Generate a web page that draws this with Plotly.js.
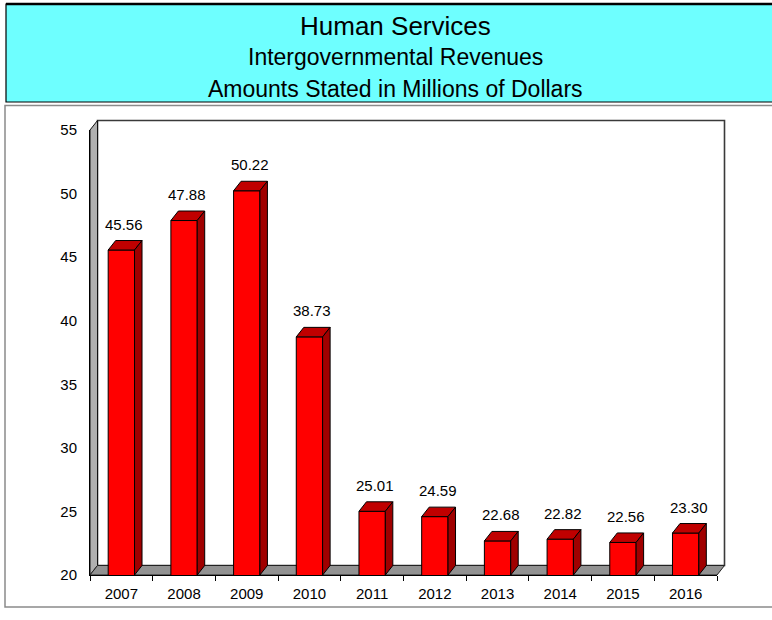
<!DOCTYPE html>
<html>
<head>
<meta charset="utf-8">
<script src="https://cdn.plot.ly/plotly-3.0.1.min.js"></script>
<style>
html,body{margin:0;padding:0;background:#ffffff;}
#chart{width:772px;height:620px;}
</style>
</head>
<body>
<div id="chart"></div>
<script>
// ---- data ----
const years = ['2007','2008','2009','2010','2011','2012','2013','2014','2015','2016'];
const revenues = [45.56, 47.88, 50.22, 38.73, 25.01, 24.59, 22.68, 22.82, 22.56, 23.30];
const yTickValues = [20, 25, 30, 35, 40, 45, 50, 55];
const titleLines = ['Human Services', 'Intergovernmental Revenues', 'Amounts Stated in Millions of Dollars'];

// ---- layout geometry ----
const W = 772, H = 620;
const M = {l: 90, r: 55, t: 130, b: 45};
const plotW = W - M.l - M.r, plotH = H - M.t - M.b;
const yMin = 20, yMax = 55;
const depthX = 7.5, depthY = 9.5;            // 3D depth in pixels
const dxP = depthX / plotW, dyP = depthY / plotH;
const dyData = depthY * (yMax - yMin) / plotH;
const barWidth = 0.42;
const halfPx = barWidth / 2 * plotW / years.length;
const px = x => (x - M.l) / plotW;           // page pixel -> paper
const py = y => (M.t + plotH - y) / plotH;

const FONT = 'Liberation Sans, Arial, Helvetica, sans-serif';

const shapes = [];
// title box
shapes.push({type:'rect', xref:'paper', yref:'paper', x0:px(6), x1:px(800), y0:py(102), y1:py(4),
  fillcolor:'#6effff', line:{color:'#000', width:1.2}, layer:'below'});
shapes.push({type:'line', xref:'paper', yref:'paper', x0:px(6), x1:px(800), y0:py(4), y1:py(4),
  line:{color:'#000', width:2.5}, layer:'below'});
// outer frame of chart area
shapes.push({type:'rect', xref:'paper', yref:'paper', x0:px(5), x1:px(800), y0:py(607), y1:py(105.5),
  fillcolor:'rgba(0,0,0,0)', line:{color:'#8a8a8a', width:1.5}, layer:'below'});
// back wall
shapes.push({type:'rect', xref:'paper', yref:'paper', x0:dxP, x1:1+dxP, y0:dyP, y1:1+dyP,
  fillcolor:'#ffffff', line:{color:'#3a3a3a', width:1.6}, layer:'below'});
// left wall
shapes.push({type:'path', xref:'paper', yref:'paper',
  path:`M0,0 L${dxP},${dyP} L${dxP},${1+dyP} L0,1 Z`,
  fillcolor:'#b0b0b0', line:{color:'#111', width:1}, layer:'below'});
// floor
shapes.push({type:'path', xref:'paper', yref:'paper',
  path:`M0,0 L1,0 L${1+dxP},${dyP} L${dxP},${dyP} Z`,
  fillcolor:'#929292', line:{color:'#222', width:1}, layer:'below'});

// 3D bar faces (top and side), anchored at each bar (category index) through the axes
years.forEach((yr, i) => {
  const v = revenues[i];
  const h = halfPx;
  shapes.push({type:'path', xref:'x', yref:'y', xsizemode:'pixel', xanchor:i,
    path:`M${-h},${v} L${h},${v} L${h+depthX},${v+dyData} L${-h+depthX},${v+dyData} Z`,
    fillcolor:'#c00000', line:{color:'#000', width:1}, layer:'above'});
  shapes.push({type:'path', xref:'x', yref:'y', xsizemode:'pixel', xanchor:i,
    path:`M${h},${v} L${h+depthX},${v+dyData} L${h+depthX},${yMin+dyData} L${h},${yMin} Z`,
    fillcolor:'#a00000', line:{color:'#000', width:1}, layer:'above'});
});

const annotations = [];
const titleY = [26, 57, 89];
const titleSize = [26, 23, 23];
titleLines.forEach((t, i) => {
  annotations.push({xref:'paper', yref:'paper', x:px(395), y:py(titleY[i]), xanchor:'center', yanchor:'middle',
    text:t, showarrow:false, font:{family:FONT, size:titleSize[i], color:'#000'}});
});
years.forEach((yr, i) => {
  annotations.push({xref:'x', yref:'y', x:i, y:revenues[i], xanchor:'center', yanchor:'middle',
    xshift:3, yshift:26, text:revenues[i].toFixed(2), showarrow:false,
    font:{family:FONT, size:15, color:'#000'}});
});

const trace = {
  type:'bar', x:years, y:revenues, width:barWidth,
  marker:{color:'#ff0000', line:{color:'#000', width:1}},
  hoverinfo:'skip', cliponaxis:true
};

const layout = {
  width:W, height:H,
  margin:{l:M.l, r:M.r, t:M.t, b:M.b, pad:0},
  paper_bgcolor:'#ffffff', plot_bgcolor:'rgba(0,0,0,0)',
  showlegend:false,
  xaxis:{type:'category', range:[-0.5, years.length-0.5], fixedrange:true,
    showline:true, linecolor:'#000', linewidth:1, showgrid:false, zeroline:false,
    ticks:'outside', tickson:'boundaries', ticklen:5, tickcolor:'#000', tickwidth:1,
    ticklabelstandoff:5,
    tickfont:{family:FONT, size:15, color:'#000'}},
  yaxis:{range:[yMin, yMax], tickvals:yTickValues, fixedrange:true,
    showline:true, linecolor:'#000', linewidth:1, showgrid:false, zeroline:false,
    ticks:'outside', ticklen:9, tickcolor:'rgba(0,0,0,0)',
    tickfont:{family:FONT, size:15, color:'#000'}},
  shapes:shapes,
  annotations:annotations,
  hovermode:false
};

Plotly.newPlot('chart', [trace], layout, {displayModeBar:false, staticPlot:true});
</script>
</body>
</html>
